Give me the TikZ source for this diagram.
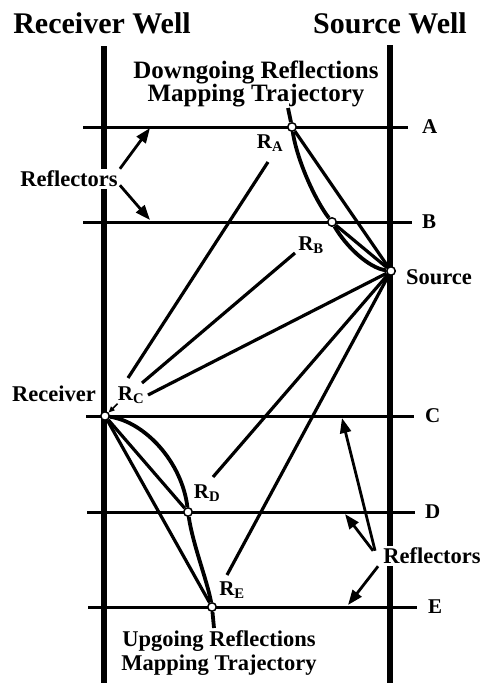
\documentclass[tikz,border=0pt]{standalone}
\usepackage{fontspec}
\setmainfont{Liberation Serif}
\usetikzlibrary{arrows.meta,positioning,calc}

\begin{document}
\begin{tikzpicture}[
    x=1pt, y=-1pt,
    poco/.style={line width=6.5pt},
    refletor/.style={line width=3pt},
    raio/.style={line width=3.2pt},
    trajetoria/.style={line width=3.8pt},
    ponto/.style={
        circle,
        draw=black,
        fill=white,
        line width=1.5pt,
        inner sep=0pt,
        minimum size=8.5pt
    },
    titulo/.style={font=\fontsize{30}{32}\selectfont\bfseries},
    rotulo/.style={font=\fontsize{22.5}{24}\selectfont\bfseries, inner sep=1pt},
    letra/.style={font=\fontsize{21}{23}\selectfont\bfseries, inner sep=0pt},
    aviso/.style={
        fill=white,
        inner sep=2pt,
        font=\fontsize{22.5}{24}\selectfont\bfseries
    },
    seta/.style={-{Triangle[length=15pt,width=11pt]}, line width=2.8pt},
    setinha/.style={-{Triangle[length=6pt,width=5pt]}, line width=1.6pt}
]

\useasboundingbox (0,0) rectangle (482,683);

% TITULOS
\node[titulo] (tituloRec) at (102,23) {Receiver Well};
\node[titulo] (tituloFon) at (390,23) {Source Well};

% POCOS
\coordinate (recTopo) at (104,46);
\coordinate (recBase) at (104,683);
\coordinate (fonTopo) at (390,45);
\coordinate (fonBase) at (390,683);
\draw[poco] (recTopo) -- (recBase);
\draw[poco] (fonTopo) -- (fonBase);

% REFLETORES A-E
\coordinate (iniA) at (83,127);
\coordinate (fimA) at (408,127);
\coordinate (iniB) at (83,222);
\coordinate (fimB) at (412,222);
\coordinate (iniC) at (86,416);
\coordinate (fimC) at (414,416);
\coordinate (iniD) at (87,512);
\coordinate (fimD) at (415,512);
\coordinate (iniE) at (88,607);
\coordinate (fimE) at (417,607);
\draw[refletor] (iniA) -- (fimA);
\draw[refletor] (iniB) -- (fimB);
\draw[refletor] (iniC) -- (fimC);
\draw[refletor] (iniD) -- (fimD);
\draw[refletor] (iniE) -- (fimE);
\node[letra, anchor=west] (lblA) at (422,127) {A};
\node[letra, anchor=west] (lblB) at (422,222) {B};
\node[letra, anchor=west] (lblC) at (425,416) {C};
\node[letra, anchor=west] (lblD) at (425,512) {D};
\node[letra, anchor=west] (lblE) at (428,607) {E};

% ROTULOS
\node[rotulo, align=center, font=\fontsize{25}{21}\selectfont\bfseries] (descendente) at (256,84)
    {Downgoing Reflections\\Mapping Trajectory};
\node[rotulo, align=center, font=\fontsize{22.5}{24}\selectfont\bfseries] (ascendente) at (219,653)
    {Upgoing Reflections\\Mapping Trajectory};
\node[rotulo] (lblFonte) at (439,277) {Source};
\node[rotulo] (lblRecep) at (54,394) {Receiver};
\node[aviso] (avisoSup) at (69,179) {Reflectors};
\node[aviso] (avisoInf) at (432,556) {Reflectors};

% PONTOS DE REFLEXAO
\node[ponto] (ra) at (292,127) {};
\node[ponto] (rb) at (332,222) {};
\node[ponto] (fonte) at (391,271) {};
\node[ponto] (recep) at (105,416) {};
\node[ponto] (rd) at (188,512) {};
\node[ponto] (re) at (212,607) {};
\node[letra] (lblRA) at (270,143) {R\textsubscript{A}};
\node[letra] (lblRB) at (311,245) {R\textsubscript{B}};
\node[letra] (lblRC) at (131,395) {R\textsubscript{C}};
\node[letra] (lblRD) at (207,493) {R\textsubscript{D}};
\node[letra] (lblRE) at (232,590) {R\textsubscript{E}};

% --- TRAJETORIA DESCENDENTE ---
\coordinate (topoTraj) at (288,108);
\draw[trajetoria] (topoTraj) -- (ra);
\draw[trajetoria] (ra) .. controls (297,160) and (315,200) .. (rb);
\draw[trajetoria] (rb) .. controls (345,245) and (368,268) .. (fonte);
\draw[raio] (ra) -- (fonte);
\draw[raio] (rb) -- (fonte);

% --- TRAJETORIA ASCENDENTE ---
\coordinate (baseTraj) at (214,628);
\draw[trajetoria] (recep) .. controls (145,422) and (182,462) .. (rd);
\draw[trajetoria] (rd) .. controls (193,545) and (207,580) .. (re);
\draw[trajetoria] (re) -- (baseTraj);
\draw[raio] (recep) -- (rd);
\draw[raio] (recep) -- (re);

% --- RAIOS ATE O RECEPTOR ---
\coordinate (pa) at (268,162);
\coordinate (qa) at (128,378);
\coordinate (pb) at (295,253);
\coordinate (qb) at (142,383);
\coordinate (qc) at (148,395);
\coordinate (qd) at (213,477);
\coordinate (qe) at (227,575);
\draw[raio] (pa) -- (qa);
\draw[raio] (pb) -- (qb);
\draw[raio] (fonte) -- (qc);
\draw[raio] (fonte) -- (qd);
\draw[raio] (fonte) -- (qe);
\draw[setinha] (lblRC.south west) -- (recep);

% --- SETAS DOS REFLETORES ---
\coordinate (alvoA) at (150,128);
\coordinate (alvoB) at (150,220);
\coordinate (alvoC) at (342,418);
\coordinate (alvoD) at (345,514);
\coordinate (alvoE) at (348,605);
\draw[seta] (avisoSup.north east) -- (alvoA);
\draw[seta] ([yshift=4pt]avisoSup.south east) -- (alvoB);
\draw[seta] ([xshift=-6pt,yshift=-5pt]avisoInf.north west) -- (alvoC);
\draw[seta] ([xshift=-8pt,yshift=-5pt]avisoInf.north west) -- (alvoD);
\draw[seta] ([xshift=-3pt]avisoInf.south west) -- (alvoE);

\end{tikzpicture}
\end{document}
